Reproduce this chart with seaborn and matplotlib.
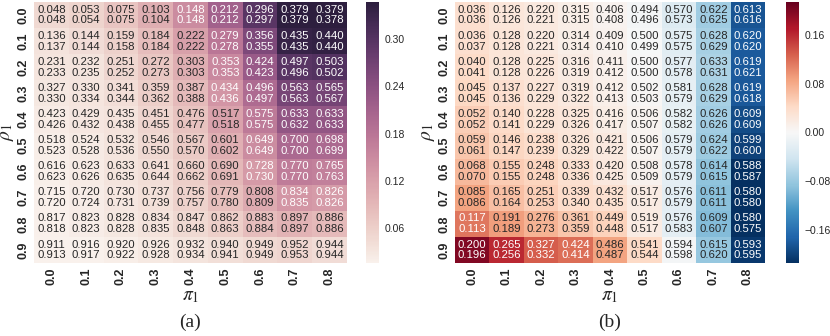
import numpy as np
import matplotlib
matplotlib.use("Agg")
import matplotlib.pyplot as plt
import seaborn as sns

# === DATA ===
rho_labels = ["0.0", "0.1", "0.2", "0.3", "0.4", "0.5", "0.6", "0.7", "0.8", "0.9"]
pi_labels = ["0.0", "0.1", "0.2", "0.3", "0.4", "0.5", "0.6", "0.7", "0.8"]
rho_vals = np.array([0.0, 0.1, 0.2, 0.3, 0.4, 0.5, 0.6, 0.7, 0.8, 0.9])
pi_vals = np.array([0.0, 0.1, 0.2, 0.3, 0.4, 0.5, 0.6, 0.7, 0.8])

# (a) estimates of rho_1, two estimators per cell (top / bottom line)
a_top = np.array([
    [0.048, 0.053, 0.075, 0.103, 0.148, 0.212, 0.296, 0.379, 0.379],
    [0.136, 0.144, 0.159, 0.184, 0.222, 0.279, 0.356, 0.435, 0.440],
    [0.231, 0.232, 0.251, 0.272, 0.303, 0.353, 0.424, 0.497, 0.503],
    [0.327, 0.330, 0.341, 0.359, 0.387, 0.434, 0.496, 0.563, 0.565],
    [0.423, 0.429, 0.435, 0.451, 0.476, 0.517, 0.575, 0.633, 0.633],
    [0.518, 0.524, 0.532, 0.546, 0.567, 0.601, 0.649, 0.700, 0.698],
    [0.616, 0.623, 0.633, 0.641, 0.660, 0.690, 0.728, 0.770, 0.765],
    [0.715, 0.720, 0.730, 0.737, 0.756, 0.779, 0.808, 0.834, 0.826],
    [0.817, 0.823, 0.828, 0.834, 0.847, 0.862, 0.883, 0.897, 0.886],
    [0.911, 0.916, 0.920, 0.926, 0.932, 0.940, 0.949, 0.952, 0.944],
])
a_bot = np.array([
    [0.048, 0.054, 0.075, 0.104, 0.148, 0.212, 0.297, 0.379, 0.378],
    [0.137, 0.144, 0.158, 0.184, 0.222, 0.278, 0.355, 0.435, 0.440],
    [0.233, 0.235, 0.252, 0.273, 0.303, 0.353, 0.423, 0.496, 0.502],
    [0.330, 0.334, 0.344, 0.362, 0.388, 0.436, 0.497, 0.563, 0.567],
    [0.426, 0.432, 0.438, 0.455, 0.477, 0.518, 0.575, 0.632, 0.633],
    [0.523, 0.528, 0.536, 0.550, 0.570, 0.602, 0.649, 0.700, 0.699],
    [0.623, 0.626, 0.635, 0.644, 0.662, 0.691, 0.730, 0.770, 0.763],
    [0.720, 0.724, 0.731, 0.739, 0.757, 0.780, 0.809, 0.835, 0.826],
    [0.818, 0.823, 0.828, 0.835, 0.848, 0.863, 0.884, 0.897, 0.886],
    [0.913, 0.917, 0.922, 0.928, 0.934, 0.941, 0.949, 0.953, 0.944],
])

# (b) estimates of pi_1
b_top = np.array([
    [0.036, 0.126, 0.220, 0.315, 0.406, 0.494, 0.570, 0.622, 0.613],
    [0.036, 0.128, 0.220, 0.314, 0.409, 0.500, 0.575, 0.628, 0.620],
    [0.040, 0.128, 0.225, 0.316, 0.411, 0.500, 0.577, 0.633, 0.619],
    [0.045, 0.137, 0.227, 0.319, 0.412, 0.502, 0.581, 0.628, 0.619],
    [0.052, 0.140, 0.228, 0.325, 0.416, 0.506, 0.582, 0.626, 0.609],
    [0.059, 0.146, 0.238, 0.326, 0.421, 0.506, 0.579, 0.624, 0.599],
    [0.068, 0.155, 0.248, 0.333, 0.420, 0.508, 0.578, 0.614, 0.588],
    [0.085, 0.165, 0.251, 0.339, 0.432, 0.517, 0.576, 0.611, 0.580],
    [0.117, 0.191, 0.276, 0.361, 0.449, 0.519, 0.576, 0.609, 0.580],
    [0.200, 0.265, 0.327, 0.424, 0.486, 0.541, 0.594, 0.615, 0.593],
])
b_bot = np.array([
    [0.036, 0.126, 0.221, 0.315, 0.408, 0.496, 0.573, 0.625, 0.616],
    [0.037, 0.128, 0.221, 0.314, 0.410, 0.499, 0.575, 0.629, 0.620],
    [0.041, 0.128, 0.226, 0.319, 0.412, 0.500, 0.578, 0.631, 0.621],
    [0.045, 0.136, 0.229, 0.322, 0.413, 0.503, 0.579, 0.629, 0.618],
    [0.052, 0.141, 0.229, 0.326, 0.417, 0.507, 0.582, 0.626, 0.609],
    [0.061, 0.147, 0.239, 0.329, 0.422, 0.507, 0.579, 0.622, 0.600],
    [0.070, 0.155, 0.248, 0.336, 0.425, 0.509, 0.579, 0.615, 0.587],
    [0.086, 0.164, 0.253, 0.340, 0.435, 0.517, 0.579, 0.611, 0.580],
    [0.113, 0.189, 0.273, 0.359, 0.448, 0.517, 0.583, 0.607, 0.575],
    [0.196, 0.256, 0.332, 0.414, 0.487, 0.544, 0.598, 0.620, 0.595],
])

# === STYLE ===
sns.set_style("white")
plt.rcParams["font.family"] = ["Liberation Sans", "DejaVu Sans"]
plt.rcParams["mathtext.fontset"] = "stix"


def cell_text(top, bot):
    return np.array([[f"{t:.3f}\n{b:.3f}" for t, b in zip(rt, rb)]
                     for rt, rb in zip(top, bot)])


# colour = bias of the estimate
a_bias = (a_top + a_bot) / 2 - rho_vals[:, None]
b_bias = (b_top + b_bot) / 2 - pi_vals[None, :]

W, H = 830, 336
fig = plt.figure(figsize=(W / 100, H / 100), dpi=100)


def px(x0, y0, x1, y1):
    return [x0 / W, 1 - y1 / H, (x1 - x0) / W, (y1 - y0) / H]


ax1 = fig.add_axes(px(34, 2, 347, 263))
cax1 = fig.add_axes(px(366, 2, 379, 263))
ax2 = fig.add_axes(px(455, 2, 765, 263))
cax2 = fig.add_axes(px(786, 2, 799, 263))

annot_kws = {"size": 8.2, "linespacing": 1.1}

sns.heatmap(a_bias, ax=ax1, cbar_ax=cax1,
            cmap=sns.cubehelix_palette(light=.95, as_cmap=True),
            vmin=0.016, vmax=0.347,
            annot=cell_text(a_top, a_bot), fmt="", annot_kws=annot_kws,
            xticklabels=pi_labels, yticklabels=rho_labels,
            cbar_kws={"ticks": [0.06, 0.12, 0.18, 0.24, 0.30]})

sns.heatmap(b_bias, ax=ax2, cbar_ax=cax2,
            cmap="RdBu_r", center=0, vmin=-0.214, vmax=0.214,
            annot=cell_text(b_top, b_bot), fmt="", annot_kws=annot_kws,
            xticklabels=pi_labels, yticklabels=rho_labels,
            cbar_kws={"ticks": [-0.16, -0.08, 0.0, 0.08, 0.16]})

for ax, cap in [(ax1, "(a)"), (ax2, "(b)")]:
    ax.tick_params(length=0, pad=3)
    for lab in ax.get_xticklabels():
        lab.set_rotation(90)
        lab.set_fontweight("bold")
        lab.set_fontsize(9)
        lab.set_ha("center")
        lab.set_va("top")
    for lab in ax.get_yticklabels():
        lab.set_rotation(90)
        lab.set_fontweight("bold")
        lab.set_fontsize(9)
        lab.set_ha("right")
        lab.set_va("center")
    ax.set_xlabel(r"$\pi_1$", fontsize=14, labelpad=2)
    ax.set_ylabel(r"$\rho_1$", fontsize=14, labelpad=1)
    bb = ax.get_position()
    fig.text(bb.x0 + bb.width / 2, 0.04, cap, ha="center", va="center",
             fontsize=14, family=["Liberation Serif", "DejaVu Serif"])

for cax in (cax1, cax2):
    cax.tick_params(length=0, labelsize=7.5, pad=4)

fig.savefig("out.png", dpi=100)
